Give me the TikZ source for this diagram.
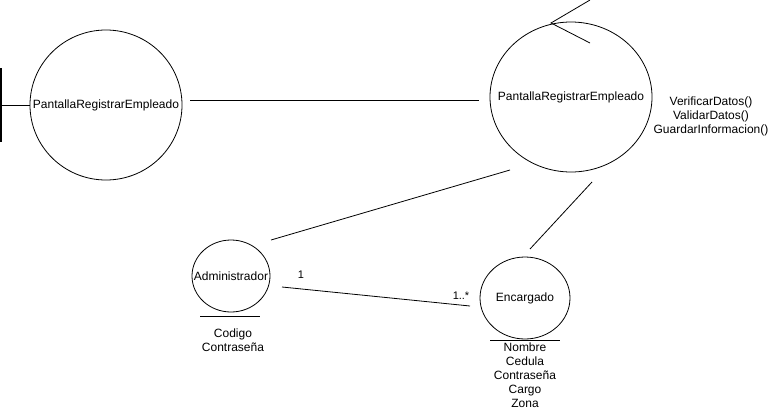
\documentclass[tikz,border=0pt]{standalone}
\usepackage{fontspec}
\setmainfont{Liberation Sans}
\usetikzlibrary{shapes.geometric}
\tikzset{
  obj/.style={ellipse,draw,inner sep=0pt,line width=0.8pt},
  inl/.style={inner sep=0pt,font=\fontsize{12}{14}\selectfont},
  conn/.style={line width=0.8pt},
  txt/.style={align=center,inner sep=0pt,font=\fontsize{12}{14}\selectfont},
  lbl/.style={inner sep=0pt,font=\fontsize{11}{13}\selectfont}
}
\begin{document}
\begin{tikzpicture}[x=1pt,y=-1pt]
\useasboundingbox (0,0) rectangle (768,410);
% objects
\node[obj,minimum width=152pt,minimum height=150pt,label={[inl]center:PantallaRegistrarEmpleado}] (bnd) at (106,105) {};
\node[obj,minimum width=162pt,minimum height=150pt,label={[inl]center:PantallaRegistrarEmpleado}] (ctl) at (571,97) {};
\node[obj,minimum width=78pt,minimum height=72pt,label={[inl]center:Administrador}] (adm) at (231,276) {};
\node[obj,minimum width=90pt,minimum height=82pt,label={[inl]center:Encargado}] (enc) at (525,298) {};
% boundary symbol
\coordinate (bt) at (1,68);
\coordinate (bb) at (1,142);
\coordinate (bm) at (1,105);
\draw[line width=1.6pt] (bt) -- (bb);
\draw[conn] (bm) -- (bnd.west);
% control arrowhead
\coordinate (ap) at (551,23);
\coordinate (a1) at (590,0);
\coordinate (a2) at (590,43);
\draw[conn] (a1) -- (ap) -- (a2);
% entity underlines
\coordinate (au1) at (200,316);
\coordinate (au2) at (260,316);
\draw[conn] (au1) -- (au2);
\coordinate (eu1) at (490,340);
\coordinate (eu2) at (560,340);
\draw[conn] (eu1) -- (eu2);
% connectors
\draw[conn] ([shift={(8,-5)}]bnd.east) -- ([shift={(-11,3)}]ctl.west);
\draw[conn] ([shift={(-61,73)}]ctl.center) -- ([shift={(40,-36)}]adm.center);
\draw[conn] ([shift={(21,85)}]ctl.center) -- ([shift={(5,-49)}]enc.center);
\draw[conn] ([shift={(51,11)}]adm.center) -- ([shift={(-55,8)}]enc.center);
% labels
\node[lbl] (m1) at (301,275) {1};
\node[lbl] (mn) at (461,296) {1..*};
\node[txt] (ops) at (711,116) {VerificarDatos()\\ValidarDatos()\\GuardarInformacion()};
\node[txt] (aatt) at (233,340) {Codigo\\Contraseña};
\node[txt] (eatt) at (525,375) {Nombre\\Cedula\\Contraseña\\Cargo\\Zona};
\end{tikzpicture}
\end{document}
